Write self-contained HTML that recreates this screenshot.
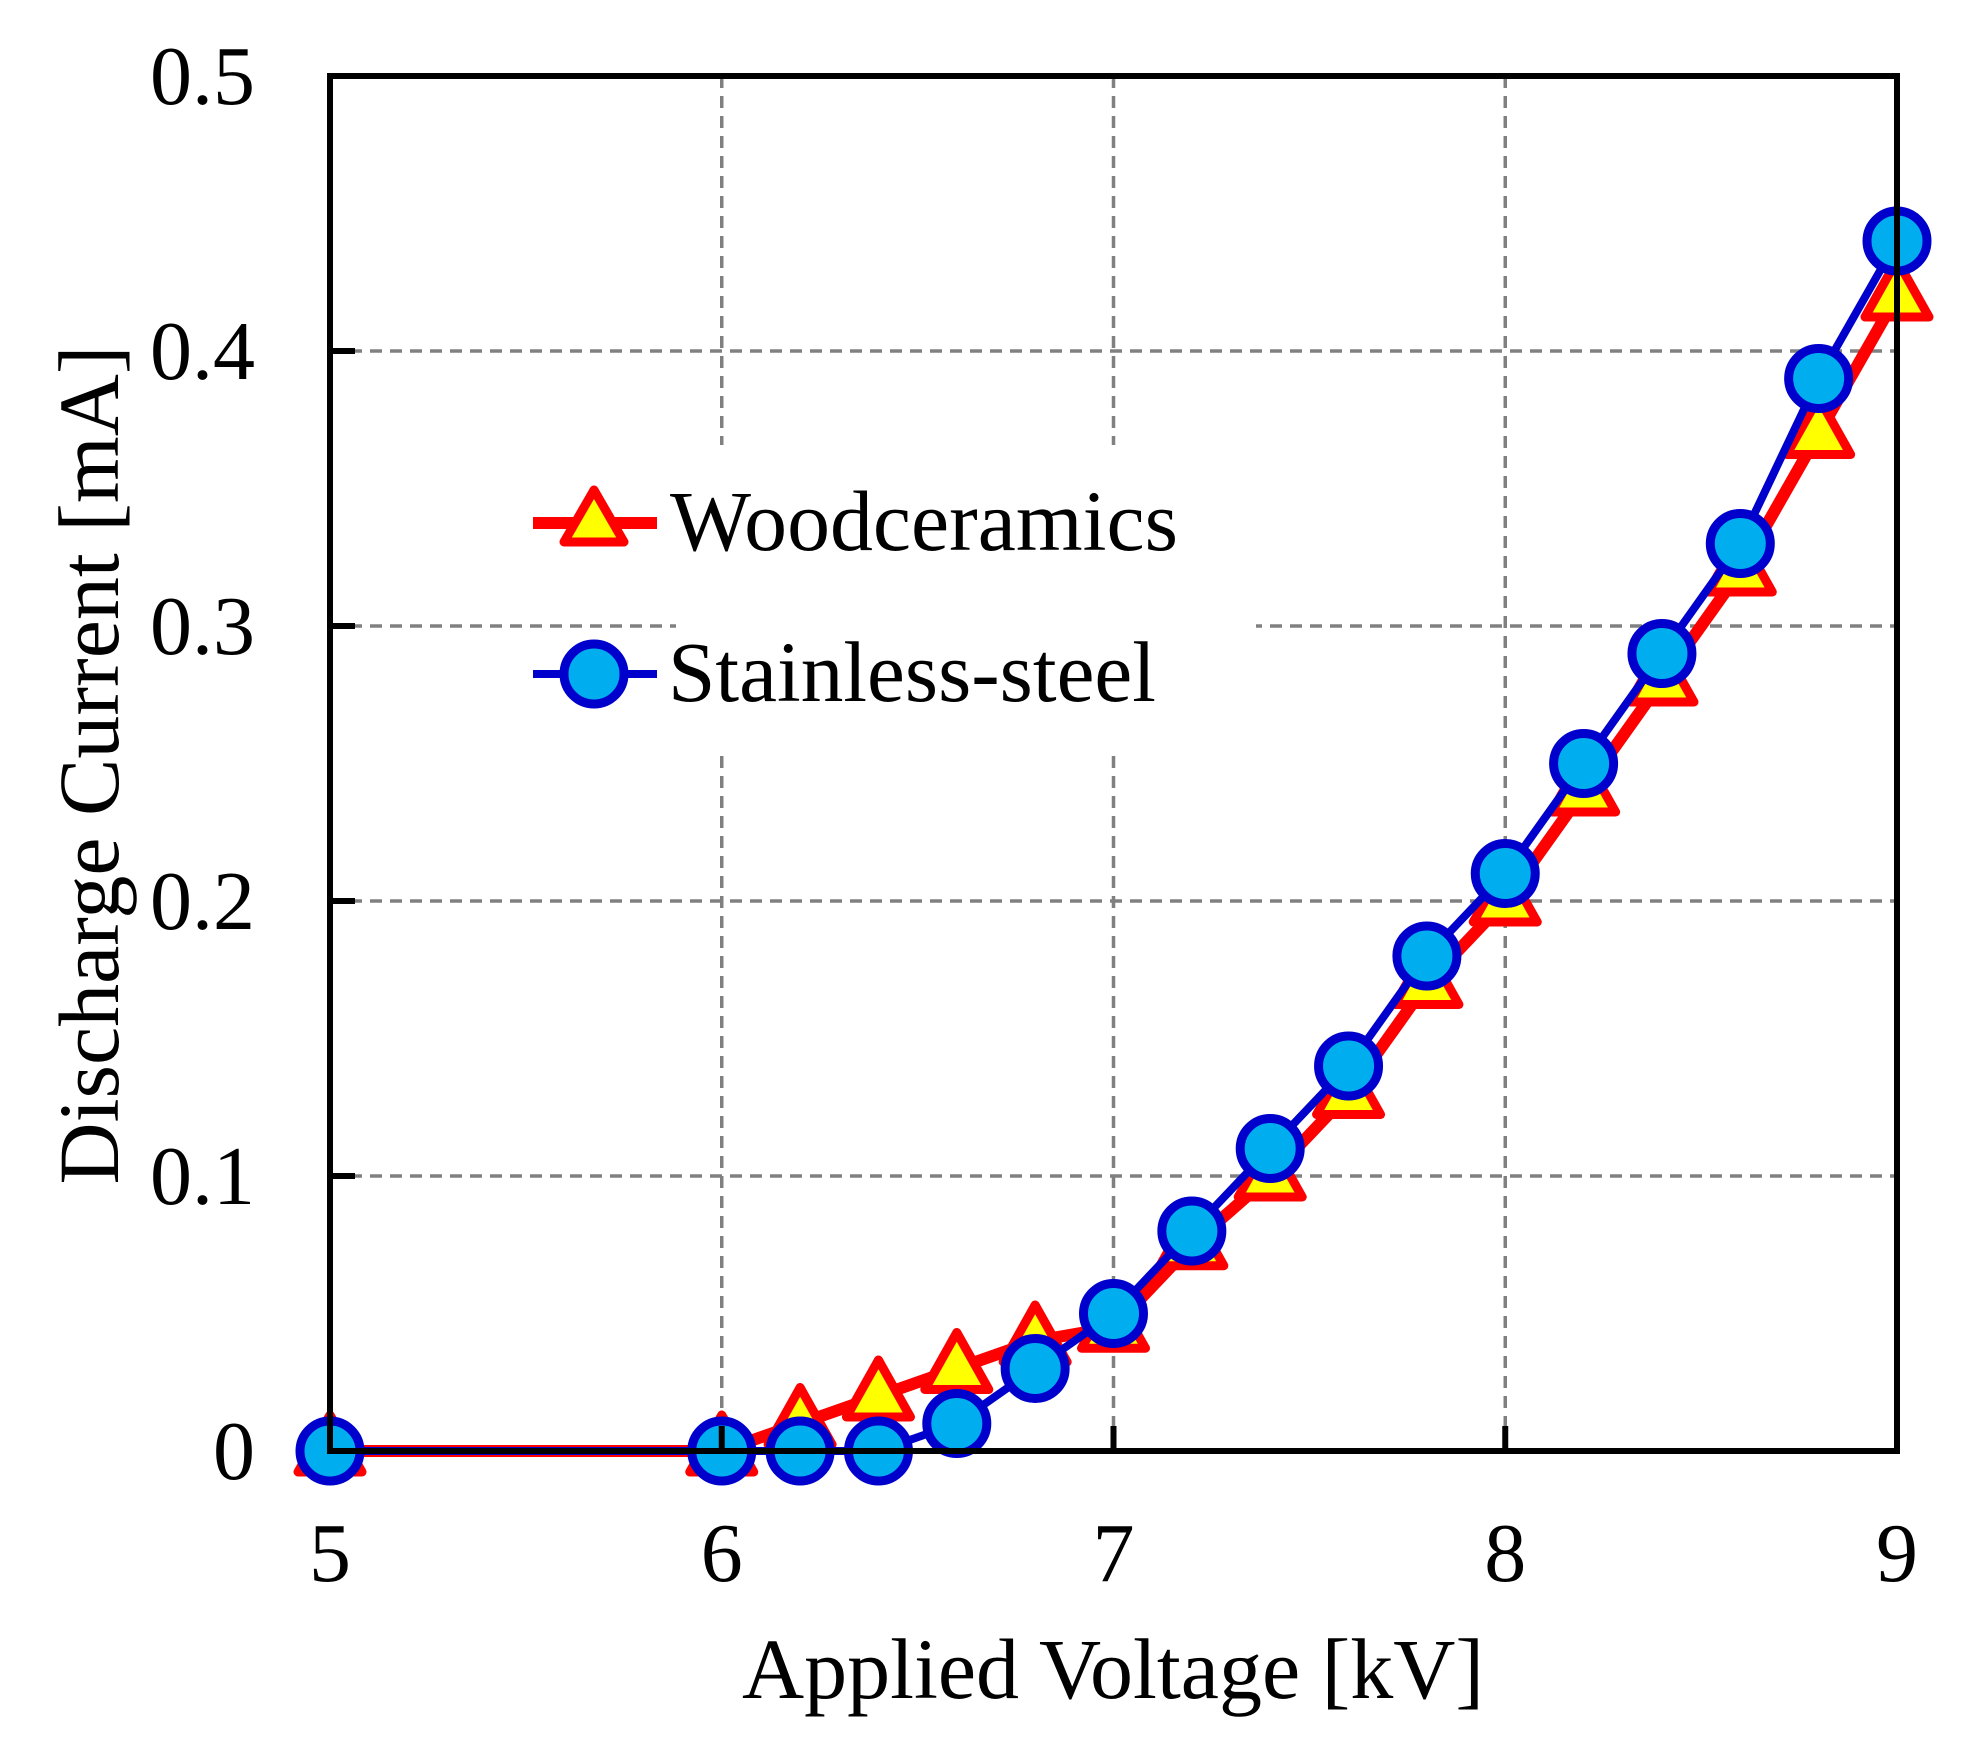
<!DOCTYPE html>
<html><head><meta charset="utf-8"><style>
html,body{margin:0;padding:0;background:#fff;}
svg{display:block;font-family:"Liberation Serif",serif;}
</style></head><body>
<svg id="chart" width="1976" height="1744" viewBox="0 0 1976 1744" xmlns="http://www.w3.org/2000/svg">
<g id="grid"></g>
<rect x="676" y="445" width="580" height="306" fill="#fff"/>
<g id="series"></g>
<g id="axes"></g>
<text x="1113" y="1698" font-size="86" text-anchor="middle">Applied Voltage [kV]</text>
<text transform="translate(118,765) rotate(-90)" font-size="86" text-anchor="middle">Discharge Current [mA]</text>
<g>
  <g>
    <line x1="533" y1="523" x2="657" y2="523" stroke="#ff0000" stroke-width="12"/>
    <polygon points="594,490 624,542 564,542" fill="#ffff00" stroke="#ff0000" stroke-width="9" stroke-linejoin="round"/>
    <text x="670" y="550" font-size="86" textLength="508" lengthAdjust="spacingAndGlyphs">Woodceramics</text>
  </g>
  <g>
    <line x1="533" y1="674" x2="657" y2="674" stroke="#0000cc" stroke-width="8"/>
    <circle cx="594" cy="674" r="30" fill="#00aeef" stroke="#0000cc" stroke-width="9"/>
    <text x="668" y="701" font-size="86" textLength="488" lengthAdjust="spacingAndGlyphs">Stainless-steel</text>
  </g>
</g>
</svg>
<script>
const voltages=[5,6,6.2,6.4,6.6,6.8,7,7.2,7.4,7.6,7.8,8,8.2,8.4,8.6,8.8,9];
const woodCurrent=[0,0,0.01,0.02,0.03,0.04,0.045,0.075,0.1,0.13,0.17,0.2,0.24,0.28,0.32,0.37,0.42];
const steelCurrent=[0,0,0,0,0.01,0.03,0.05,0.08,0.11,0.14,0.18,0.21,0.25,0.29,0.33,0.39,0.44];
const xTicks=[5,6,7,8,9];
const yTicks=[0,0.1,0.2,0.3,0.4,0.5];
const yTickLabels=["0","0.1","0.2","0.3","0.4","0.5"];

const L=330,R=1897,T=76,B=1451;
const xMin=5,xMax=9,yMin=0,yMax=0.5;
function sx(v){return L+(v-xMin)/(xMax-xMin)*(R-L);}
function sy(v){return B-(v-yMin)/(yMax-yMin)*(B-T);}
const NS="http://www.w3.org/2000/svg";
function mk(tag,attrs,parent){const e=document.createElementNS(NS,tag);for(const k in attrs)e.setAttribute(k,attrs[k]);parent.appendChild(e);return e;}
const grid=document.getElementById('grid'),axes=document.getElementById('axes'),series=document.getElementById('series');

xTicks.forEach(function(t,i){
  if(t>xMin&&t<xMax){
    const g=mk('line',{x1:sx(t),y1:T,x2:sx(t),y2:B,stroke:'#808080',"stroke-width":3.5,"stroke-dasharray":"12 8"},grid);
    
    
  }
  const tk=mk('line',{x1:sx(t),y1:B,x2:sx(t),y2:B-25,stroke:'#000',"stroke-width":6},axes);
  
  
  const lb=mk('text',{x:sx(t),y:B+130,"font-size":84,"text-anchor":"middle"},axes);
  lb.textContent=String(t);
  
  
});
yTicks.forEach(function(t,i){
  if(t>yMin&&t<yMax){
    const g=mk('line',{x1:L,y1:sy(t),x2:R,y2:sy(t),stroke:'#808080',"stroke-width":3.5,"stroke-dasharray":"12 8"},grid);
    
    
  }
  const tk=mk('line',{x1:L,y1:sy(t),x2:L+25,y2:sy(t),stroke:'#000',"stroke-width":6},axes);
  
  
  const lb=mk('text',{x:255,y:sy(t)+28,"font-size":84,"text-anchor":"end"},axes);
  lb.textContent=yTickLabels[i];
  
  
});
const frame=mk('rect',{x:L,y:T,width:R-L,height:B-T,fill:'none',stroke:'#000',"stroke-width":6},axes);



const wp=voltages.map(function(v,i){return sx(v)+','+sy(woodCurrent[i]);}).join(' ');
const wl=mk('polyline',{points:wp,fill:'none',stroke:'#ff0000',"stroke-width":12,"stroke-linejoin":"round"},series);


voltages.forEach(function(v,i){
  const cx=sx(v),cy=sy(woodCurrent[i]);
  const p=mk('polygon',{points:cx+','+(cy-36)+' '+(cx+32)+','+(cy+21)+' '+(cx-32)+','+(cy+21),fill:'#ffff00',stroke:'#ff0000',"stroke-width":9,"stroke-linejoin":"round"},series);
  
  
});
const spts=voltages.map(function(v,i){return sx(v)+','+sy(steelCurrent[i]);}).join(' ');
const sl=mk('polyline',{points:spts,fill:'none',stroke:'#0000cc',"stroke-width":8,"stroke-linejoin":"round"},series);


voltages.forEach(function(v,i){
  const c=mk('circle',{cx:sx(v),cy:sy(steelCurrent[i]),r:30,fill:'#00aeef',stroke:'#0000cc',"stroke-width":9},series);
  
  
});
</script>
</body></html>
